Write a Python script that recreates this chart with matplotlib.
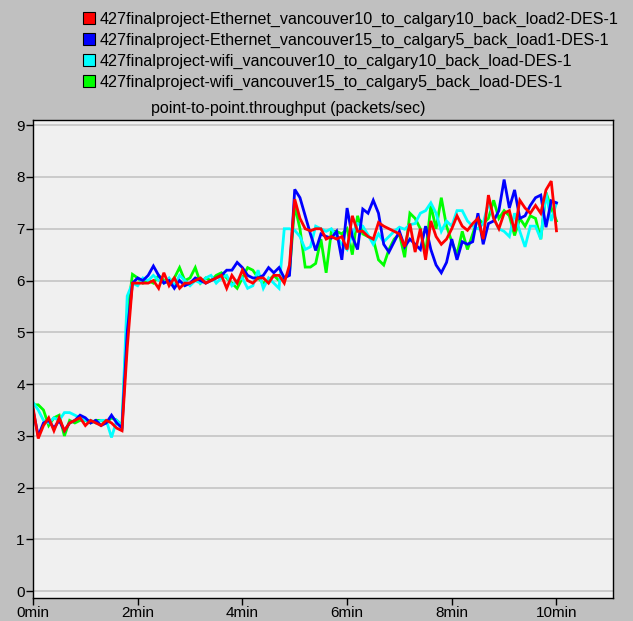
import numpy as np
import matplotlib
matplotlib.use("Agg")
import matplotlib.pyplot as plt
from matplotlib.lines import Line2D

plt.rcParams['font.family'] = ['Liberation Sans', 'DejaVu Sans']

# time in minutes, one sample every 6 s
time_min = np.arange(101) * 0.1

eth_10_10 = [3.55, 2.95, 3.2, 3.35, 3.1, 3.35, 3.1, 3.25, 3.3, 3.35,
             3.2, 3.3, 3.25, 3.2, 3.3, 3.25, 3.15, 3.1, 4.7, 5.95,
             5.95, 5.95, 5.95, 6.0, 5.85, 6.15, 5.9, 6.05, 5.85, 5.95,
             5.95, 6.0, 6.05, 5.95, 6.0, 6.05, 6.1, 5.85, 6.1, 5.95,
             6.2, 6.0, 5.95, 6.05, 6.05, 5.95, 6.1, 6.1, 5.95, 6.3,
             7.57, 7.2, 7.0, 6.96, 7.0, 7.0, 6.8, 6.85, 6.8, 6.85,
             6.6, 7.25, 6.95, 6.95, 6.85, 6.8, 7.12, 7.05, 7.0, 6.95,
             6.9, 6.65, 7.1, 6.55, 7.0, 6.4, 7.15, 6.85, 6.7, 6.8,
             7.0, 7.25, 7.05, 6.97, 7.1, 7.2, 6.8, 7.65, 7.2, 7.0,
             7.3, 7.35, 6.95, 7.55, 7.4, 7.3, 7.45, 7.3, 7.75, 7.92,
             6.96]

eth_15_5 = [3.5, 3.0, 3.25, 3.3, 3.15, 3.3, 3.1, 3.25, 3.3, 3.4,
            3.35, 3.25, 3.3, 3.2, 3.25, 3.4, 3.25, 3.15, 5.0, 5.95,
            6.05, 6.0, 6.1, 6.28, 6.1, 5.95, 6.0, 5.85, 6.0, 5.9,
            5.95, 6.05, 6.0, 5.95, 6.0, 6.05, 6.1, 6.2, 6.2, 6.35,
            6.25, 6.1, 6.05, 6.05, 6.1, 6.25, 6.15, 6.25, 6.05, 6.1,
            7.76, 7.6, 7.25, 6.9, 6.58, 6.9, 6.85, 6.82, 6.95, 6.4,
            7.4, 6.85, 6.6, 7.38, 7.3, 7.55, 7.3, 6.7, 6.55, 6.75,
            6.95, 6.65, 6.8, 6.7, 6.6, 7.05, 6.6, 6.3, 6.15, 6.35,
            6.8, 6.4, 6.75, 6.7, 6.75, 7.3, 6.7, 7.1, 7.15, 7.35,
            7.95, 7.4, 7.75, 7.2, 7.25, 7.45, 7.6, 7.65, 7.03, 7.54,
            7.5]

wifi_10_10 = [3.65, 3.5, 3.3, 3.25, 3.35, 3.3, 3.45, 3.45, 3.4, 3.35,
              3.3, 3.3, 3.25, 3.3, 3.3, 2.97, 3.3, 3.2, 5.7, 5.95,
              5.9, 6.05, 6.0, 6.1, 6.0, 5.95, 6.05, 5.9, 6.1, 6.0,
              5.9, 6.0, 5.95, 6.05, 6.1, 5.95, 6.05, 6.1, 5.9, 6.0,
              6.05, 5.85, 5.9, 6.2, 5.85, 6.05, 5.95, 5.85, 7.0, 7.0,
              6.97, 6.85, 6.6, 6.65, 7.05, 7.0, 6.95, 7.0, 6.85, 6.7,
              6.6, 6.9, 7.1, 7.05, 6.88, 6.7, 6.9, 6.75, 6.85, 6.95,
              7.03, 6.99, 7.08, 7.1, 7.3, 7.35, 7.5, 7.3, 6.95, 7.15,
              7.05, 7.35, 7.35, 7.15, 7.05, 7.0, 7.1, 7.5, 7.2, 7.0,
              6.95, 6.85, 7.3, 6.95, 6.65, 7.05, 7.05, 6.8, 7.7, 7.15,
              7.5]

wifi_15_5 = [3.6, 3.6, 3.5, 3.2, 3.35, 3.4, 3.0, 3.3, 3.25, 3.3,
             3.3, 3.25, 3.3, 3.3, 3.25, 3.35, 3.3, 3.2, 5.3, 6.12,
             6.05, 5.95, 6.0, 5.95, 6.1, 6.0, 5.95, 6.05, 6.25, 6.0,
             6.05, 6.25, 5.95, 6.05, 6.0, 6.1, 6.15, 6.05, 5.95, 5.85,
             6.05, 6.25, 6.2, 6.05, 5.95, 6.0, 6.1, 6.0, 6.05, 6.15,
             7.45, 7.0, 6.26, 6.26, 6.33, 6.8, 6.15, 6.95, 6.95, 6.9,
             7.0, 6.5, 7.25, 6.9, 6.85, 6.8, 6.4, 6.3, 6.6, 6.8,
             6.9, 6.45, 7.3, 7.2, 7.0, 6.5, 7.45, 7.0, 7.6, 7.05,
             6.75, 6.5, 6.95, 6.6, 6.9, 7.2, 7.1, 7.2, 7.55, 7.2,
             7.35, 7.25, 6.87, 7.2, 7.05, 7.25, 7.2, 6.8, 7.7, 7.4,
             7.15]

labels = [
    "427finalproject-Ethernet_vancouver10_to_calgary10_back_load2-DES-1",
    "427finalproject-Ethernet_vancouver15_to_calgary5_back_load1-DES-1",
    "427finalproject-wifi_vancouver10_to_calgary10_back_load-DES-1",
    "427finalproject-wifi_vancouver15_to_calgary5_back_load-DES-1",
]
colors = ["#ff0000", "#0000ff", "#00ffff", "#00ff00"]
series = [eth_10_10, eth_15_5, wifi_10_10, wifi_15_5]

x_ticks = [0, 2, 4, 6, 8, 10]
x_tick_labels = ["0min", "2min", "4min", "6min", "8min", "10min"]
y_ticks = list(range(10))

W, H = 633, 621
fig = plt.figure(figsize=(W / 100, H / 100), dpi=100, facecolor="#c0c0c0")
ax = fig.add_axes([33 / W, 1 - 598 / H, 580 / W, 478 / H])
ax.set_facecolor("#f0f0f0")

# draw last legend entry first so red ends up on top
for vals, col in reversed(list(zip(series, colors))):
    ax.plot(time_min, vals, color=col, lw=2.0, solid_joinstyle="miter")

ax.set_xlim(0, 11.08)
ax.set_ylim(-0.13, 9.1)
ax.set_xticks(x_ticks)
ax.set_xticklabels(x_tick_labels)
ax.set_yticks(y_ticks)
ax.yaxis.grid(True, color="#c8c8c8", lw=1.3)
ax.set_axisbelow(True)
ax.tick_params(direction="out", length=5, width=1, labelsize=11, pad=1)
for sp in ax.spines.values():
    sp.set_color("black")
    sp.set_linewidth(1)

fig.text(288 / W, 1 - 108 / H, "point-to-point.throughput (packets/sec)",
         ha="center", va="center", fontsize=11.5)

handles = [Line2D([], [], ls="none", marker="s", markersize=8,
                  markerfacecolor=c, markeredgecolor="black", markeredgewidth=0.8)
           for c in colors]
fig.legend(handles, labels, loc="upper left", bbox_to_anchor=(83 / W, 1 - 12 / H),
           frameon=False, fontsize=11.6, handlelength=0.7, handletextpad=0.35,
           labelspacing=0.36, borderpad=0, borderaxespad=0)

fig.savefig("out.png", dpi=100, facecolor=fig.get_facecolor())
